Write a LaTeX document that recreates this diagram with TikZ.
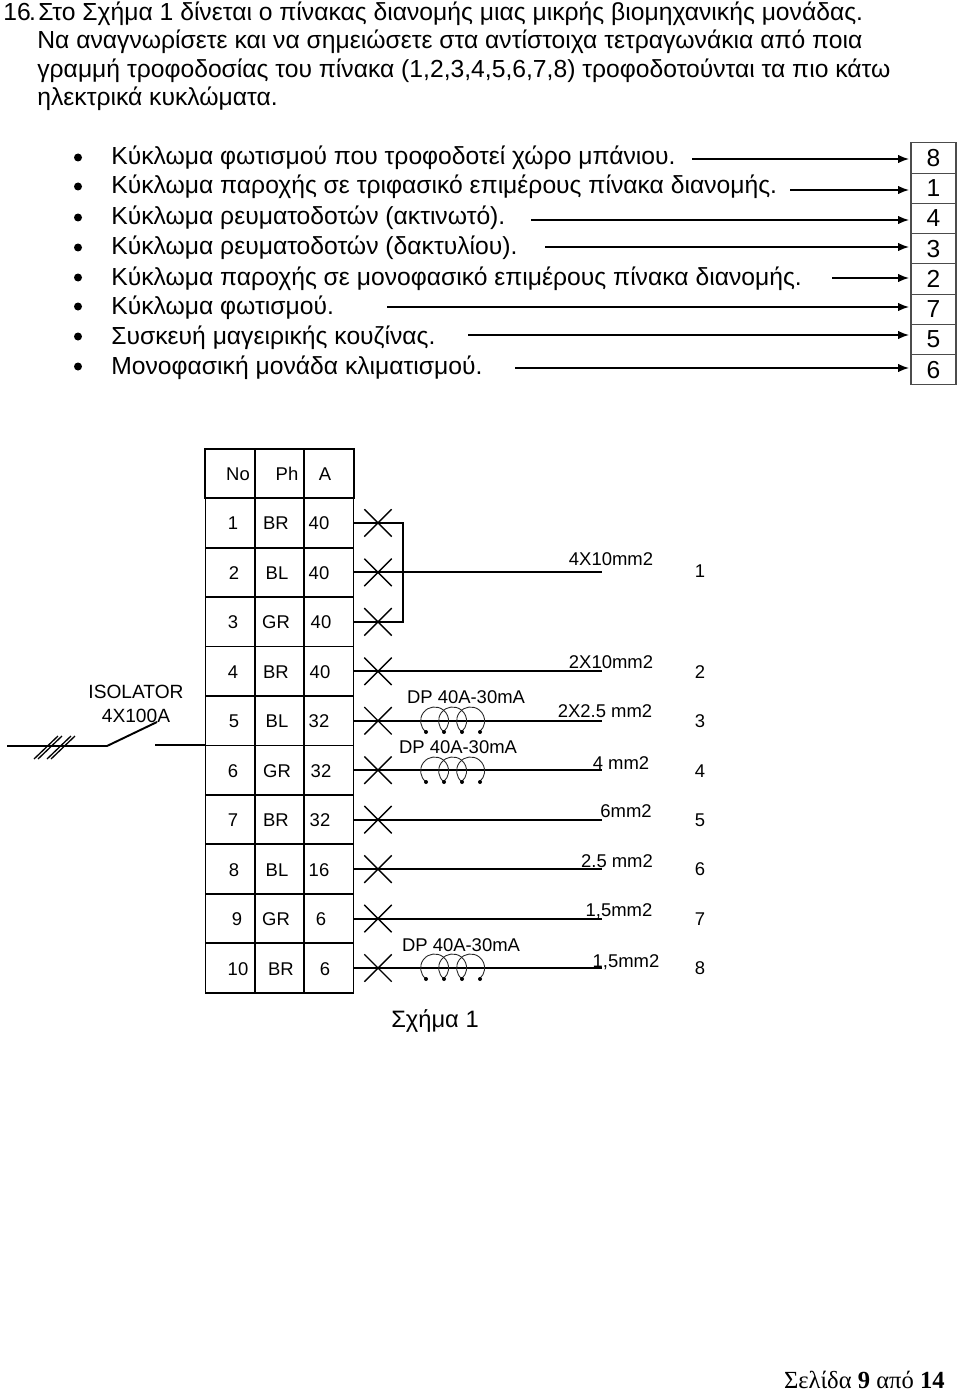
\documentclass[tikz,border=0pt]{standalone}
\usepackage{fontspec}
\setmainfont{Liberation Sans}
\newfontfamily\pagefont{Liberation Serif}
\usetikzlibrary{shapes.misc, arrows.meta}

\tikzset{
	wire/.style={line width=1.1pt},
	feed/.style={line width=0.85pt, -{Latex[length=0.22cm, width=0.17cm]}},
	txt/.style={inner sep=0pt, font=\fontsize{14.05}{16}\selectfont, anchor=base west},
	small/.style={inner sep=0pt, font=\fontsize{10.5}{12}\selectfont, anchor=base, yshift=-0.14cm},
	cell/.style={draw, line width=1pt, minimum width=0.98cm, minimum height=0.99cm, inner sep=0pt},
	numbox/.style={draw=black!70, line width=0.7pt, minimum width=0.9cm, minimum height=0.605cm, inner sep=0pt, font=\fontsize{14}{16}\selectfont},
	breaker/.style={draw, cross out, line width=0.8pt, minimum size=0.52cm, inner sep=0pt},
	bullet/.style={circle, fill, inner sep=0pt, minimum size=0.16cm},
	coil/.pic={
		\draw[line width=0.5pt, black!85] (-54, 11) arc (128:409:14);
		\draw[line width=0.5pt, black!85] (-36, 11) arc (128:409:14);
		\draw[line width=0.5pt, black!85] (-18, 11) arc (128:409:14);
		\foreach \d in {-54, -36, -18, 0}
			\fill (\d, 11) circle (2);
	}
}

\begin{document}
\begin{tikzpicture}[x=0.02cm, y=-0.02cm]
	\useasboundingbox (0, 0) rectangle (960, 1392);

	% question
	\node[txt] (q0) at (3, 21) {16\kern-1pt.};
	\node[txt] (q1) at (38, 21) {Στο Σχήμα 1 δίνεται ο πίνακας διανομής μιας μικρής βιομηχανικής μονάδας.};
	\node[txt] (q2) at (37, 49) {Να αναγνωρίσετε και να σημειώσετε στα αντίστοιχα τετραγωνάκια από ποια};
	\node[txt] (q3) at (37, 78) {γραμμή τροφοδοσίας του πίνακα (1,2,3,4,5,6,7,8) τροφοδοτούνται τα πιο κάτω};
	\node[txt] (q4) at (37, 106) {ηλεκτρικά κυκλώματα.};

	% list with arrows
	\foreach \i/\y/\ay/\sx/\n/\t in {
		1/165/159/692/8/Κύκλωμα φωτισμού που τροφοδοτεί χώρο μπάνιου.,
		2/194/190/790/1/Κύκλωμα παροχής σε τριφασικό επιμέρους πίνακα διανομής.,
		3/225/220/531/4/Κύκλωμα ρευματοδοτών (ακτινωτό).,
		4/255/247/545/3/Κύκλωμα ρευματοδοτών (δακτυλίου).,
		5/285/278/832/2/Κύκλωμα παροχής σε μονοφασικό επιμέρους πίνακα διανομής.,
		6/314/307/387/7/Κύκλωμα φωτισμού.,
		7/344/335/468/5/Συσκευή μαγειρικής κουζίνας.,
		8/374/368/515/6/Μονοφασική μονάδα κλιματισμού.}
	{
		\node[bullet] (b\i) at (78, \y-7.5) {};
		\node[txt] (t\i) at (111, \y) {\t};
		\node[numbox] (n\i) at (933.5, 158+30.25*\i-30.25) {\n};
		\coordinate (s\i) at (\sx, \ay);
		\coordinate (e\i) at (909, \ay);
		\draw[feed] (s\i) -- (e\i);
	}

	% board
	\node[small] (hno) at (238, 473) {No};
	\node[small] (hph) at (287, 473) {Ph};
	\node[small] (ha) at (325, 473) {A};
	\draw[line width=1pt] (205, 449) rectangle (354, 498);
	\draw[line width=1pt] (255, 449) -- (255, 498) (304, 449) -- (304, 498);

	\foreach \i/\nx/\p/\px/\a/\ax in {
		1/233/BR/276/40/319,
		2/234/BL/277/40/319,
		3/233/GR/276/40/321,
		4/233/BR/276/40/320,
		5/234/BL/277/32/319,
		6/233/GR/277/32/321,
		7/233/BR/276/32/320,
		8/234/BL/277/16/319,
		9/237/GR/276/6/321,
		10/238/BR/281/6/325}
	{
		\node[cell] (cn\i) at (230, 473.5+49.45*\i) {};
		\node[cell] (cp\i) at (279.5, 473.5+49.45*\i) {};
		\node[cell] (ca\i) at (329, 473.5+49.45*\i) {};
		\node[small] (ln\i) at (\nx, 473.5+49.45*\i) {\i};
		\node[small] (lp\i) at (\px, 473.5+49.45*\i) {\p};
		\node[small] (la\i) at (\ax, 473.5+49.45*\i) {\a};
		\node[breaker] (x\i) at (378, 473.5+49.45*\i) {};
		\coordinate (w\i) at (602, 473.5+49.45*\i);
	}

	% outgoing lines
	\coordinate (r1) at (403, 523);
	\coordinate (r3) at (403, 622);
	\draw[wire] (ca1.east) -- (r1 |- ca1.east) -- (r3 |- ca3.east) -- (ca3.east);
	\foreach \i in {2, 4, 5, 6, 7, 8, 9, 10}
		\draw[wire] (ca\i.east) -- (w\i);

	\foreach \t/\x/\y/\n in {
		4X10mm2/611/558/c1,
		2X10mm2/611/661/c2,
		2X2.5 mm2/605/710/c3,
		4 mm2/621/762/c4,
		6mm2/626/810/c5,
		2.5 mm2/617/860/c6,
		{1,5mm2}/619/909/c7,
		{1,5mm2}/626/960/c8}
		\node[small] (\n) at (\x, \y) {\t};

	\foreach \t/\y in {1/570, 2/671, 3/720, 4/770, 5/819, 6/868, 7/918, 8/967}
		\node[small] (o\t) at (700, \y) {\t};

	% residual current devices
	\node[small] (dp1) at (466, 696) {DP 40A-30mA};
	\node[small] (dp2) at (458, 746) {DP 40A-30mA};
	\node[small] (dp3) at (461, 944) {DP 40A-30mA};
	\pic at (480, 721) {coil};
	\pic at (480, 771) {coil};
	\pic at (480, 968) {coil};

	% isolator
	\node[inner sep=0pt, align=center, font=\fontsize{10.9}{12}\selectfont] (iso) at (136, 704) {ISOLATOR\\[1.5pt]4X100A};
	\coordinate (in) at (7, 746);
	\coordinate (sw1) at (107, 746);
	\coordinate (sw2) at (157, 722);
	\coordinate (sw3) at (155, 746);
	\draw[wire] (in) -- (sw1) -- (sw2);
	\draw[wire] (sw3 |- cn6.north west) -- (cn6.north west);
	\foreach \d in {34, 38, 47, 51}
		\draw[line width=0.75pt] (\d, 759) -- (\d+24, 736);

	\node[inner sep=0pt, font=\fontsize{13.5}{15}\selectfont] (cap) at (435, 1021) {Σχήμα 1};
	\node[inner sep=0pt, anchor=base east, font=\pagefont\fontsize{14}{16}\selectfont] (page) at (945, 1388) {Σελίδα \textbf{9} από \textbf{14}};
\end{tikzpicture}
\end{document}
